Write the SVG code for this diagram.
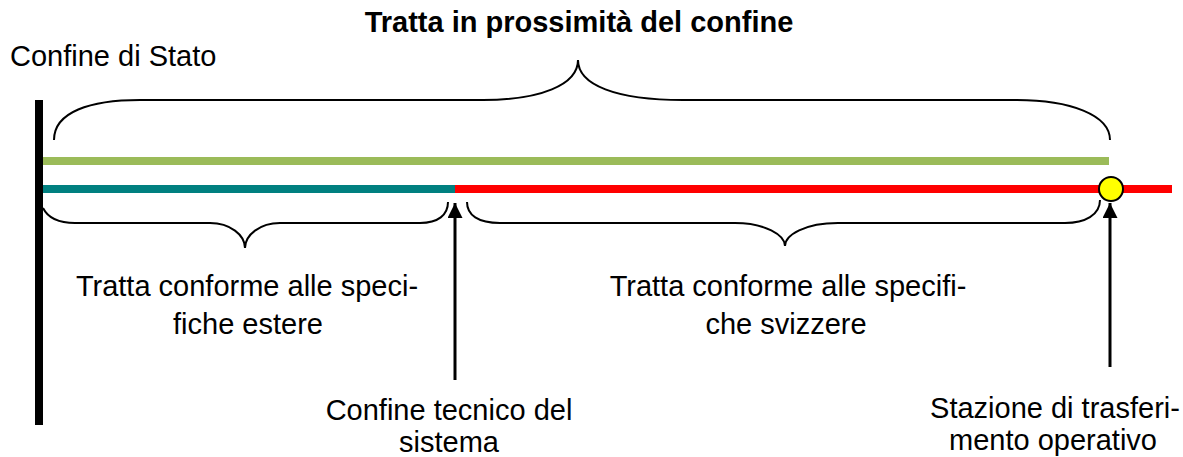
<svg xmlns="http://www.w3.org/2000/svg" width="1183" height="457" viewBox="0 0 1183 457">
<defs>
<style>
text{font-family:"Liberation Sans",Arial,sans-serif;font-size:29px;fill:#000}
.b{font-weight:bold}
.brace{fill:none;stroke:#000;stroke-width:2}
.arrow{stroke:#000;stroke-width:3;fill:none}
</style>
<marker id="ah" viewBox="0 0 10 10" refX="10" refY="5" markerWidth="5" markerHeight="5" markerUnits="strokeWidth" orient="auto">
<path d="M0,0 L10,5 L0,10 z" fill="#000"/>
</marker>
</defs>
<rect width="1183" height="457" fill="#fff"/>
<g id="lines">
<line x1="43" y1="161" x2="1109" y2="161" stroke="#9BBB59" stroke-width="8"/>
<line x1="43" y1="189" x2="455" y2="189" stroke="#008080" stroke-width="8"/>
<line x1="455" y1="189" x2="1172" y2="189" stroke="#FF0000" stroke-width="8"/>
</g>
<g id="confine-stato">
<rect x="35" y="100" width="8" height="325" fill="#000"/>
<text x="10" y="66">Confine di Stato</text>
</g>
<g id="tratta-prossimita">
<path class="brace" d="M54,140 C54,112 90,100 140,100 L483,100 C540,100 578,85 578,60 C578,85 616,100 683,100 L1017,100 C1070,100 1110,115 1110,140"/>
<text class="b" x="579" y="32" text-anchor="middle">Tratta in prossimità del confine</text>
</g>
<g id="tratta-estere">
<path class="brace" d="M43,208 C48,218 58,223 75,223 L210,223 C230,223 245,235 245,248 C245,235 260,223 280,223 L420,223 C438,223 448,215 448,202"/>
<text x="247" y="296" text-anchor="middle">Tratta conforme alle speci-</text>
<text x="248" y="334" text-anchor="middle">fiche estere</text>
</g>
<g id="tratta-svizzere">
<path class="brace" d="M467,202 C467,215 478,223 500,223 L735,223 C765,223 785,235 785,246 C785,235 805,223 838,223 L1065,223 C1085,223 1100,215 1100,200"/>
<text x="788" y="296" text-anchor="middle">Tratta conforme alle specifi-</text>
<text x="786" y="334" text-anchor="middle">che svizzere</text>
</g>
<g id="stazione">
<circle cx="1111" cy="189" r="12" fill="#FFFF00" stroke="#000" stroke-width="2"/>
<text x="1055" y="418" text-anchor="middle">Stazione di trasferi-</text>
<text x="1053" y="450" text-anchor="middle">mento operativo</text>
</g>
<g id="confine-tecnico">
<text x="449" y="420" text-anchor="middle">Confine tecnico del</text>
<text x="449" y="452" text-anchor="middle">sistema</text>
</g>
<g id="connectors">
<line class="arrow" x1="455" y1="380" x2="455" y2="203" marker-end="url(#ah)"/>
<line class="arrow" x1="1110" y1="367" x2="1110" y2="203" marker-end="url(#ah)"/>
</g>
</svg>
